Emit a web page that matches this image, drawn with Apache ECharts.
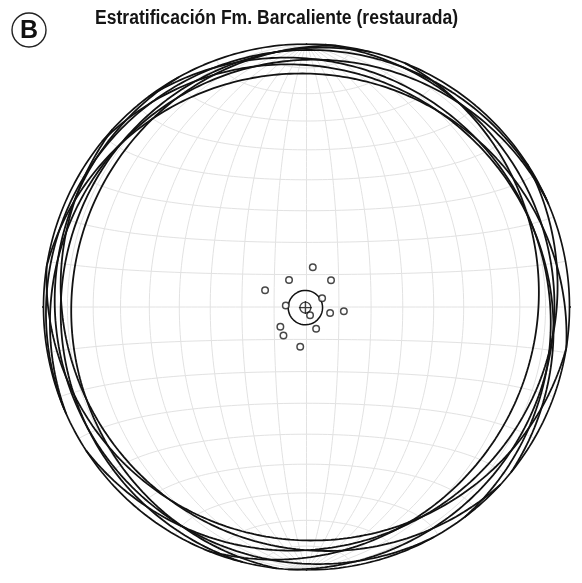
<!DOCTYPE html>
<html>
<head>
<meta charset="utf-8">
<script src="https://cdn.jsdelivr.net/npm/echarts@6/dist/echarts.min.js"></script>
<style>
html,body{margin:0;padding:0;background:#fff;}
#chart{width:582px;height:583px;}
</style>
</head>
<body>
<div id="chart"></div>
<script>
// Bedding planes (dip direction / dip, degrees)
const dipDirection = [189, 147, 222.5, 112, 94, 241, 284, 276.5, 337, 336, 53, 39, 9];
const dipAngle     = [12.4, 9.9, 11.2, 13.8, 6.4, 5.5, 7.5, 11.6, 2.8, 7.3, 10.1, 11.3, 12.4];
const gridStep = 10;              // Schmidt net spacing (degrees)
const tickAzimuths = [0, 90, 180, 270];
const titleText = 'Estratificación Fm. Barcaliente (restaurada)';
const panelLabel = 'B';

const D = Math.PI / 180;
function proj(x, y, z) {
  if (z < 0) { x = -x; y = -y; z = -z; }
  const h = Math.sqrt(x * x + y * y);
  if (h < 1e-12) return [0, 0];
  const r = Math.sqrt(Math.max(0, 1 - Math.min(1, z)));
  return [r * x / h, r * y / h];
}
function lineVec(trend, plunge) {
  return [Math.cos(plunge * D) * Math.sin(trend * D), Math.cos(plunge * D) * Math.cos(trend * D), Math.sin(plunge * D)];
}

const series = [];
const ink = '#121212';
// Grid (equatorial Schmidt net)
const gridStyle = { color: '#e2e2e2', width: 1 };
function addGrid(pts) {
  series.push({ type: 'line', data: pts, showSymbol: false, silent: true, lineStyle: gridStyle, z: 1 });
}
for (let d = gridStep; d <= 90; d += gridStep) {
  for (const s of [1, -1]) {
    const pts = [];
    for (let p = 0; p <= 180; p += 2) {
      const v = [s * Math.sin(p * D) * Math.cos(d * D), Math.cos(p * D), Math.sin(p * D) * Math.sin(d * D)];
      pts.push(proj(v[0], v[1], v[2]));
    }
    addGrid(pts);
    if (d === 90) break;
  }
  for (const s of [1, -1]) {
    const pts = [];
    for (let q = 0; q <= 180; q += 2) {
      const v = [Math.sin(d * D) * Math.cos(q * D), s * Math.cos(d * D), Math.sin(d * D) * Math.sin(q * D)];
      pts.push(proj(v[0], v[1], v[2]));
    }
    addGrid(pts);
    if (d === 90) break;
  }
}

// Primitive
const prim = [];
for (let a = 0; a <= 360; a += 1) prim.push(proj(Math.sin(a * D), Math.cos(a * D), 0));
series.push({ type: 'line', data: prim, showSymbol: false, silent: true, lineStyle: { color: ink, width: 1.7 }, z: 3 });

// Ticks
tickAzimuths.forEach(function (az) {
  const a = proj(Math.sin(az * D), Math.cos(az * D), 0);
  series.push({ type: 'line', data: [a, [a[0] * 1.027, a[1] * 1.027]], showSymbol: false, silent: true,
    lineStyle: { color: ink, width: 1.3 }, z: 3 });
});

// Great circles
for (let i = 0; i < dipDirection.length; i++) {
  const pts = [];
  const dd = dipDirection[i], dp = dipAngle[i];
  for (let a = -90; a <= 90; a += 1) {
    const pl = Math.atan(Math.tan(dp * D) * Math.cos(a * D)) / D;
    const v = lineVec(dd + a, pl);
    pts.push(proj(v[0], v[1], v[2]));
  }
  series.push({ type: 'line', data: pts, showSymbol: false, silent: true, lineStyle: { color: ink, width: 1.8 }, z: 4 });
}

// Poles
const poles = [];
const sum = [0, 0, 0];
for (let i = 0; i < dipDirection.length; i++) {
  const v = lineVec(dipDirection[i] + 180, 90 - dipAngle[i]);
  sum[0] += v[0]; sum[1] += v[1]; sum[2] += v[2];
  poles.push(proj(v[0], v[1], v[2]));
}
series.push({ type: 'scatter', data: poles, symbol: 'circle', symbolSize: 6.5,
  itemStyle: { color: '#fff', borderColor: '#1a1a1a', borderWidth: 1.5 }, z: 6 });

// Fisher mean and alpha95 cone
const n = dipDirection.length;
const Rl = Math.hypot(sum[0], sum[1], sum[2]);
const m = [sum[0] / Rl, sum[1] / Rl, sum[2] / Rl];
const a95 = Math.acos(1 - (n - Rl) / Rl * (Math.pow(20, 1 / (n - 1)) - 1));
let u = [m[1], -m[0], 0]; let ul = Math.hypot(u[0], u[1]); if (ul < 1e-9) { u = [1, 0, 0]; ul = 1; }
u = [u[0] / ul, u[1] / ul, 0];
const w = [m[1] * u[2] - m[2] * u[1], m[2] * u[0] - m[0] * u[2], m[0] * u[1] - m[1] * u[0]];
const cone = [];
for (let q = 0; q <= 360; q += 4) {
  const c = Math.cos(q * D), s = Math.sin(q * D);
  const v = [0, 1, 2].map(k => Math.cos(a95) * m[k] + Math.sin(a95) * (c * u[k] + s * w[k]));
  cone.push(proj(v[0], v[1], v[2]));
}
series.push({ type: 'line', data: cone, showSymbol: false, silent: true, lineStyle: { color: ink, width: 1.5 }, z: 5 });
const meanPt = proj(m[0], m[1], m[2]);
series.push({ type: 'scatter', data: [meanPt], symbol: 'circle', symbolSize: 11,
  itemStyle: { color: 'rgba(255,255,255,0)', borderColor: ink, borderWidth: 1.3 }, z: 7 });
series.push({ type: 'scatter', data: [meanPt], symbol: 'path://M10,0L10,20M0,10L20,10', symbolSize: 13,
  itemStyle: { color: 'none', borderColor: ink, borderWidth: 1.3 }, z: 7 });

// Title: condensed look via horizontal scaling of real text
const titleFont = "bold 20px 'Liberation Sans', Arial, sans-serif";
const mc = document.createElement('canvas').getContext('2d');
mc.font = titleFont;
const tw = mc.measureText(titleText).width || 440;
const titleLeft = 95, titleRight = 458;
const sx = (titleRight - titleLeft) / tw;

const chart = echarts.init(document.getElementById('chart'), null, { renderer: 'canvas' });
chart.setOption({
  animation: false,
  backgroundColor: '#fff',
  grid: { left: 43.5, top: 44, width: 526, height: 526 },
  xAxis: { type: 'value', min: -1, max: 1, show: false },
  yAxis: { type: 'value', min: -1, max: 1, show: false },
  graphic: [
    { type: 'text', x: titleLeft, y: 18, scaleX: sx, scaleY: 1,
      style: { text: titleText, fontSize: 20, fontWeight: 'bold', fontFamily: "'Liberation Sans', Arial, sans-serif", fill: '#151515', align: 'left', verticalAlign: 'middle' } },
    { type: 'circle', shape: { cx: 29, cy: 30, r: 17 }, style: { fill: 'none', stroke: '#222', lineWidth: 1.4 } },
    { type: 'text', x: 29, y: 31, style: { text: panelLabel, fontSize: 25, fontWeight: 'bold', fontFamily: "'Liberation Sans', Arial, sans-serif", fill: '#111', align: 'center', verticalAlign: 'middle' } }
  ],
  series: series
});
</script>
</body>
</html>
